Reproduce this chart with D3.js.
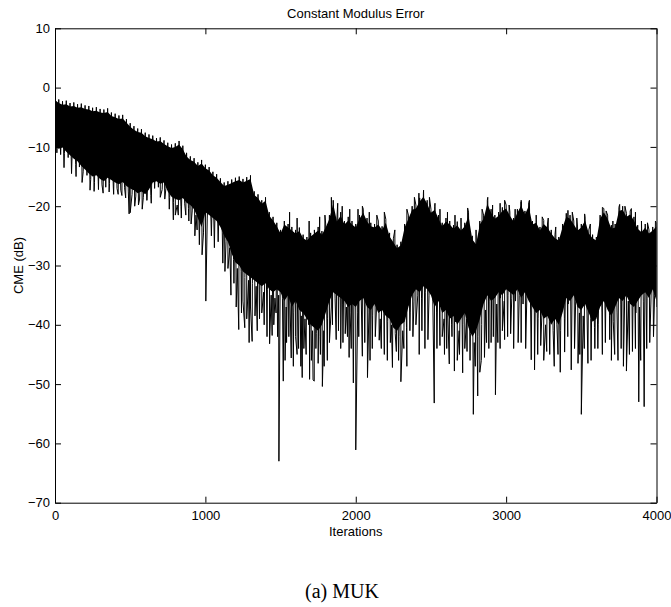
<!DOCTYPE html>
<html>
<head>
<meta charset="utf-8">
<script src="https://cdn.jsdelivr.net/npm/d3@7"></script>
<style>
  html, body { margin: 0; padding: 0; background: #fff; }
  svg { display: block; }
</style>
</head>
<body>
<svg id="chart" width="671" height="607"></svg>
<script>
// ---------------- data ----------------
const sampleStep = 25; // iterations between envelope samples
// upper edge of the error trace (dB), one value every 25 iterations, 0..4000
const upperDB = [
  -1.5,-2.0,-2.3,-2.2,-2.6,-2.5,-2.8,-2.7,-3.0,-3.1,
  -3.4,-3.3,-3.6,-3.7,-3.5,-4.2,-4.4,-4.7,-4.6,-5.3,
  -6.0,-6.5,-6.9,-7.0,-7.6,-7.9,-8.1,-8.5,-8.4,-8.9,
  -9.3,-9.6,-9.4,-9.0,-9.8,-11.0,-11.6,-11.9,-12.6,-12.2,
  -13.0,-13.4,-14.2,-14.6,-15.3,-16.0,-15.8,-15.5,-15.2,-15.0,
  -15.4,-15.1,-14.8,-17.5,-18.0,-19.0,-18.5,-21.0,-21.8,-22.8,
  -24.0,-22.5,-23.0,-23.5,-24.0,-23.6,-24.8,-25.2,-24.5,-24.0,
  -23.5,-24.2,-23.0,-21.5,-19.0,-22.0,-21.0,-22.5,-21.8,-22.5,
  -23.0,-21.5,-20.5,-22.0,-22.8,-23.0,-22.5,-23.4,-22.2,-24.5,
  -25.5,-26.5,-26.0,-23.0,-21.5,-20.0,-19.8,-18.6,-17.8,-19.0,
  -20.5,-20.0,-21.5,-22.8,-22.0,-22.5,-23.2,-22.6,-23.5,-22.8,
  -21.0,-25.0,-25.8,-22.5,-21.5,-19.0,-20.5,-21.5,-21.0,-20.2,
  -19.8,-21.0,-22.0,-20.5,-19.3,-20.8,-19.4,-22.5,-22.2,-23.5,
  -22.4,-23.0,-24.0,-24.8,-25.2,-23.0,-21.2,-21.5,-22.5,-23.5,
  -23.0,-21.8,-24.0,-24.8,-25.2,-21.5,-20.4,-21.5,-23.2,-23.0,
  -20.2,-20.0,-21.2,-20.8,-21.8,-23.2,-23.8,-23.0,-24.0,-23.5,
  -22.8
];
// lower edge of the dense body of the trace (dB), same sampling
const lowerDB = [
  -11.0,-11.3,-11.1,-11.8,-12.4,-13.0,-13.4,-14.2,-14.8,-15.5,
  -16.0,-15.8,-16.4,-16.8,-16.2,-16.6,-17.0,-17.3,-16.9,-17.6,
  -18.0,-18.3,-18.8,-18.5,-19.0,-18.2,-17.0,-16.8,-17.2,-17.0,
  -18.5,-19.4,-19.8,-20.0,-19.6,-20.4,-20.8,-21.5,-23.0,-24.5,
  -22.0,-22.5,-23.0,-23.5,-24.5,-26.0,-27.0,-29.0,-30.5,-31.0,
  -32.0,-32.5,-33.0,-33.5,-34.0,-34.5,-34.0,-35.0,-35.5,-35.0,
  -35.5,-37.0,-36.0,-38.0,-37.0,-38.5,-39.0,-40.0,-41.0,-41.5,
  -42.0,-41.0,-39.0,-37.0,-35.5,-36.0,-36.5,-37.0,-38.0,-37.5,
  -38.0,-37.0,-36.5,-38.0,-38.5,-37.5,-39.0,-38.5,-39.5,-40.0,
  -41.5,-42.0,-41.0,-40.5,-38.0,-36.0,-35.0,-35.5,-34.5,-35.0,
  -36.0,-38.0,-37.0,-39.0,-38.5,-40.0,-39.5,-41.0,-40.0,-39.0,
  -41.5,-43.0,-42.0,-40.0,-37.5,-36.0,-37.0,-36.5,-35.5,-36.0,
  -35.0,-35.5,-36.0,-35.0,-36.5,-35.5,-37.0,-38.0,-39.0,-38.5,
  -40.0,-39.5,-41.0,-40.0,-41.0,-39.0,-36.5,-37.0,-36.0,-38.0,
  -38.5,-37.5,-39.0,-40.5,-40.0,-38.0,-37.0,-38.5,-39.5,-38.0,
  -36.5,-37.0,-36.0,-37.5,-38.0,-37.0,-36.0,-35.5,-36.5,-35.0,
  -37.0
];
// isolated downward spikes: iteration and value (dB)
const spikeIter = [
  60,110,140,180,233,260,289,320,360,390,420,445,470,493,
  500,530,555,580,610,640,700,730,760,787,800,820,840,870,890,905,930,945,960,978,1003,
  1040,1060,1085,1116,1130,1150,1170,1190,1205,1222,1240,1250,1262,1275,1291,1300,1311,1330,1345,1360,1375,1391,1410,1427,1444,1455,1470,1480,1489,
  1518,1530,1540,1555,1571,1585,1600,1610,1620,1635,1644,1655,1670,1693,1705,1716,1724,1735,1750,1765,1778,1790,1811,1825,1845,1870,1885,1900,1915,1930,1945,1956,1970,1984,2000,
  2020,2044,2060,2078,2095,2110,2130,2156,2170,2190,2210,2230,2244,2270,2285,2300,2320,2340,2360,2380,2400,2422,2440,2460,2480,
  2522,2540,2560,2575,2590,2605,2622,2640,2656,2675,2690,2711,2725,2740,2760,2782,2795,2811,2825,2835,2856,2870,2885,2900,2915,2929,2945,2960,2975,2990,
  3010,3030,3050,3080,3100,3130,3167,3189,3210,3230,3250,3270,3290,3320,3345,3360,3389,3410,3433,3455,3478,3490,3500,
  3520,3544,3565,3590,3610,3640,3660,3689,3700,3722,3744,3765,3780,3800,3820,3840,3860,3882,3895,3918,3935,3955,3980
];
const spikeDB = [
  -13.5,-14.5,-15.0,-16.0,-17.3,-17.5,-17.2,-17.8,-17.6,-18.0,-18.0,-18.2,-18.6,-21.3,
  -21.1,-20.0,-19.8,-20.5,-19.0,-19.5,-18.5,-18.8,-20.5,-22.3,-21.5,-21.5,-22.0,-21.5,-22.5,-23.0,-25.0,-24.0,-26.5,-28.2,-36.0,
  -25.0,-27.0,-26.0,-29.6,-31.0,-30.5,-35.0,-33.0,-37.0,-40.8,-38.0,-36.0,-40.5,-39.0,-43.0,-37.0,-42.8,-38.5,-41.0,-39.0,-38.0,-40.0,-42.0,-43.2,-41.8,-40.0,-38.0,-42.0,-63.0,
  -49.5,-46.0,-43.0,-42.0,-45.6,-47.0,-42.0,-45.0,-44.0,-47.0,-48.9,-44.0,-45.0,-49.2,-46.0,-49.3,-49.5,-44.0,-46.5,-45.0,-50.4,-47.0,-46.0,-43.0,-40.0,-42.5,-41.0,-44.0,-43.0,-41.5,-42.0,-45.5,-44.0,-49.8,-61.1,
  -42.0,-45.3,-43.0,-48.9,-46.0,-44.0,-42.0,-42.6,-44.0,-45.0,-46.0,-43.0,-47.2,-44.5,-46.0,-49.6,-44.0,-47.0,-41.0,-42.0,-40.0,-45.0,-41.0,-44.0,-42.5,
  -53.2,-44.0,-43.5,-42.0,-45.0,-44.0,-46.6,-42.0,-47.8,-46.0,-45.0,-48.1,-44.0,-44.5,-46.0,-55.1,-47.0,-52.0,-48.0,-46.0,-45.5,-43.0,-44.0,-43.0,-42.0,-51.8,-43.0,-44.0,-41.0,-42.5,
  -42.0,-41.5,-44.0,-43.0,-43.0,-44.0,-45.9,-47.6,-45.0,-43.5,-46.0,-44.5,-45.0,-47.0,-45.0,-48.0,-44.6,-42.0,-47.6,-44.0,-46.5,-45.0,-55.1,
  -44.0,-46.5,-46.0,-44.0,-44.0,-45.0,-43.0,-42.5,-46.0,-45.0,-46.0,-44.0,-47.0,-47.8,-45.0,-44.5,-44.0,-53.0,-46.0,-53.8,-44.0,-43.0,-42.0
];
// small upward spikes above the upper edge: iteration and value (dB)
const upSpikeIter = [
  1560,1610,1690,1760,1795,1838,1880,1910,1960,
  2015,2044,2090,2140,2190,2260,2340,2390,2420,2451,2490,
  2527,2560,2610,2660,2700,2744,2800,2840,2878,2910,2960,2990,
  3020,3060,3100,3155,3200,3240,3280,3330,3411,3440,3470,
  3522,3560,3640,3665,3710,3755,3790,3833,3860,3900,3940,3993
];
const upSpikeDB = [
  -21.0,-22.0,-22.5,-21.8,-21.5,-18.5,-19.5,-20.0,-20.5,
  -20.5,-20.0,-21.0,-21.5,-21.0,-24.0,-20.5,-18.5,-17.8,-17.3,-18.5,
  -19.5,-20.5,-21.0,-21.5,-22.0,-20.3,-24.0,-20.5,-18.5,-19.8,-19.5,-19.0,
  -19.8,-20.5,-19.0,-19.0,-21.5,-21.8,-22.0,-23.5,-20.7,-21.0,-22.0,
  -21.3,-23.0,-20.2,-20.8,-22.5,-19.7,-20.0,-20.4,-21.0,-22.5,-22.8,-22.5
];
const xTickValues = [0, 1000, 2000, 3000, 4000];
const yTickValues = [-70, -60, -50, -40, -30, -20, -10, 0, 10];
const titleText = "Constant Modulus Error";
const xLabelText = "Iterations";
const yLabelText = "CME (dB)";
const captionText = "(a) MUK";

// ---------------- layout ----------------
const svg = d3.select("#chart");
const mLeft = 55, mRight = 656.5, mTop = 28.3, mBottom = 502.7;
const x = d3.scaleLinear().domain([0, 4000]).range([mLeft, mRight]);
const y = d3.scaleLinear().domain([-70, 10]).range([mBottom, mTop]);
const font = "'Liberation Sans', Arial, Helvetica, sans-serif";
const coreInsetTop = 0.6, coreInsetBottom = 1.0; // solid core sits inside the zigzag extremes

// build the trace: alternate between upper and lower body edges, with spikes inserted
const samples = upperDB.map((u, i) => ({ it: i * sampleStep, up: u, lo: lowerDB[i] }));
const pts = [];
samples.forEach((s) => {
  pts.push({ it: s.it, v: s.up });
  const mid = Math.min(s.it + sampleStep / 2, 4000);
  pts.push({ it: mid, v: s.lo });
});
spikeIter.forEach((it, k) => pts.push({ it: it, v: spikeDB[k] }));
upSpikeIter.forEach((it, k) => pts.push({ it: it, v: upSpikeDB[k] }));
pts.sort((a, b) => a.it - b.it);

svg.append("clipPath").attr("id", "clip")
  .append("rect").attr("x", mLeft).attr("y", mTop)
  .attr("width", mRight - mLeft).attr("height", mBottom - mTop);

const g = svg.append("g").attr("clip-path", "url(#clip)");

// solid core of the body
g.append("path")
  .datum(samples)
  .attr("fill", "#000")
  .attr("d", d3.area().x(d => x(d.it))
    .y0(d => y(Math.min(d.lo + coreInsetBottom, d.up - coreInsetTop - 0.5)))
    .y1(d => y(d.up - coreInsetTop)));

// the noisy trace
g.append("path")
  .datum(pts)
  .attr("fill", "none")
  .attr("stroke", "#000")
  .attr("stroke-width", 1)
  .attr("d", d3.line().x(d => x(d.it)).y(d => y(d.v)));

// ---------------- axes (box with inward ticks) ----------------
function styleAxis(sel) {
  sel.selectAll("path.domain").attr("stroke", "#000").attr("stroke-width", 1);
  sel.selectAll(".tick line").attr("stroke", "#000").attr("stroke-width", 1);
  sel.selectAll("text").attr("font-family", font).attr("font-size", 13).attr("fill", "#000");
}
const fmt = d3.format("d");

svg.append("g").attr("transform", `translate(0,${mBottom})`)
  .call(d3.axisBottom(x).tickValues(xTickValues).tickFormat(fmt).tickSizeInner(-6).tickSizeOuter(0).tickPadding(8))
  .call(styleAxis);
svg.append("g").attr("transform", `translate(0,${mTop})`)
  .call(d3.axisTop(x).tickValues(xTickValues).tickFormat("").tickSizeInner(-6).tickSizeOuter(0))
  .call(styleAxis);
svg.append("g").attr("transform", `translate(${mLeft},0)`)
  .call(d3.axisLeft(y).tickValues(yTickValues).tickFormat(fmt).tickSizeInner(-6).tickSizeOuter(0).tickPadding(5))
  .call(styleAxis);
svg.append("g").attr("transform", `translate(${mRight},0)`)
  .call(d3.axisRight(y).tickValues(yTickValues).tickFormat("").tickSizeInner(-6).tickSizeOuter(0))
  .call(styleAxis);

// ---------------- texts ----------------
svg.append("text").attr("x", (mLeft + mRight) / 2).attr("y", 18)
  .attr("text-anchor", "middle").attr("font-family", font).attr("font-size", 13)
  .text(titleText);
svg.append("text").attr("x", (mLeft + mRight) / 2).attr("y", 535.5)
  .attr("text-anchor", "middle").attr("font-family", font).attr("font-size", 13)
  .text(xLabelText);
svg.append("text")
  .attr("transform", `translate(22.5,${(mTop + mBottom) / 2}) rotate(-90)`)
  .attr("text-anchor", "middle").attr("font-family", font).attr("font-size", 13)
  .text(yLabelText);
svg.append("text").attr("x", 342).attr("y", 598)
  .attr("text-anchor", "middle")
  .attr("font-family", "'Liberation Serif', 'Times New Roman', serif").attr("font-size", 20)
  .text(captionText);
</script>
</body>
</html>
